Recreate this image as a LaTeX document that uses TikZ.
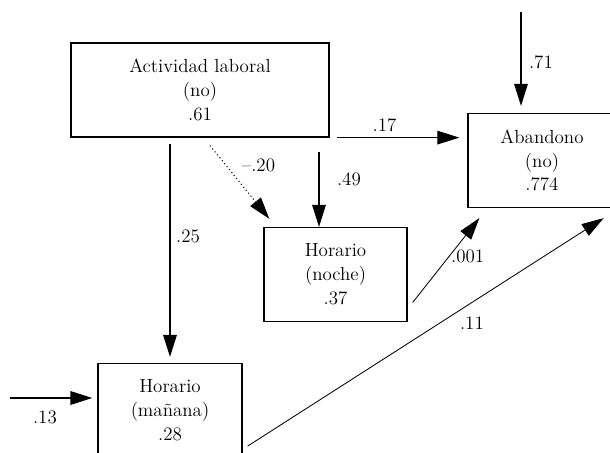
\documentclass[tikz,border=0pt]{standalone}
\usepackage{tikz}
\usetikzlibrary{arrows.meta}

\begin{document}
\begin{tikzpicture}[
    >={Triangle[length=5.5mm,width=3.4mm]},
    varbox/.style={draw, line width=0.9pt, minimum width=#1, minimum height=2.35cm,
                   align=center, inner sep=0pt, font=\fontsize{13.5}{17}\selectfont},
    link/.style={->, line width=0.7pt},
    coef/.style={font=\fontsize{13.5}{15}\selectfont, inner sep=1pt}
  ]
  \useasboundingbox (0,0) rectangle (15.25,11.325);

  % Variables of the model
  \node[varbox=6.45cm]  (act)    at (5.0,9.075)     {Actividad laboral\\(no)\\.61};
  \node[varbox=3.7cm]   (aban)   at (13.55,7.3125)  {Abandono\\(no)\\.774};
  \node[varbox=3.575cm] (noche)  at (8.3875,4.4625) {Horario\\(noche)\\.37};
  \node[varbox=3.6cm]   (manana) at (4.25,1.0625)   {Horario\\(mañana)\\.28};

  % Residual entry points
  \coordinate (e13) at (0.25,1.375);
  \coordinate (e49) at (7.975,7.525);
  \coordinate (e71) at (13.025,11.025);

  % Paths from Actividad laboral
  \draw[link, line width=1pt, shorten <=1.5mm, shorten >=1.5mm]
    (act.south -| manana.north) -- (manana.north)
    node[coef, pos=.44, right=1mm] (c25) {.25};
  \draw[link, dotted, line width=0.8pt]
    ([xshift=2.5mm,yshift=-2mm]act.south) -- ([xshift=1.5mm,yshift=2mm]noche.north west)
    node[coef, pos=.27, right=3.5mm] (c20) {--.20};
  \draw[link]
    ([xshift=1.75mm]act.south east) -- ([xshift=-2mm]act.south east -| aban.west)
    node[coef, pos=.39, above=1mm] (c17) {.17};

  % Paths into Abandono
  \draw[link, line width=0.6pt]
    ([xshift=1.25mm,yshift=-7mm]noche.east) -- ([xshift=3mm,yshift=-2.5mm]aban.south west)
    node[coef, pos=.55, right=0pt] (c001) {.001};
  \draw[link, line width=0.6pt]
    ([xshift=1.25mm,yshift=-8.9mm]manana.east) -- ([xshift=-3.25mm,yshift=-2.5mm]aban.south east)
    node[coef, pos=.63, below=3.2mm] (c11) {.11};

  % Residuals
  \draw[link, line width=1pt, shorten >=1.25mm] (e13) -- (e13 -| manana.west)
    node[coef, pos=.4, below=2.8mm] (c13) {.13};
  \draw[link, line width=0.9pt] (e49) -- (e49 |- noche.north)
    node[coef, pos=.37, right=4mm] (c49) {.49};
  \draw[link, line width=0.9pt, shorten >=1.75mm] (e71) -- (e71 |- aban.north)
    node[coef, pos=.5, right=1.5mm] (c71) {.71};
\end{tikzpicture}
\end{document}
